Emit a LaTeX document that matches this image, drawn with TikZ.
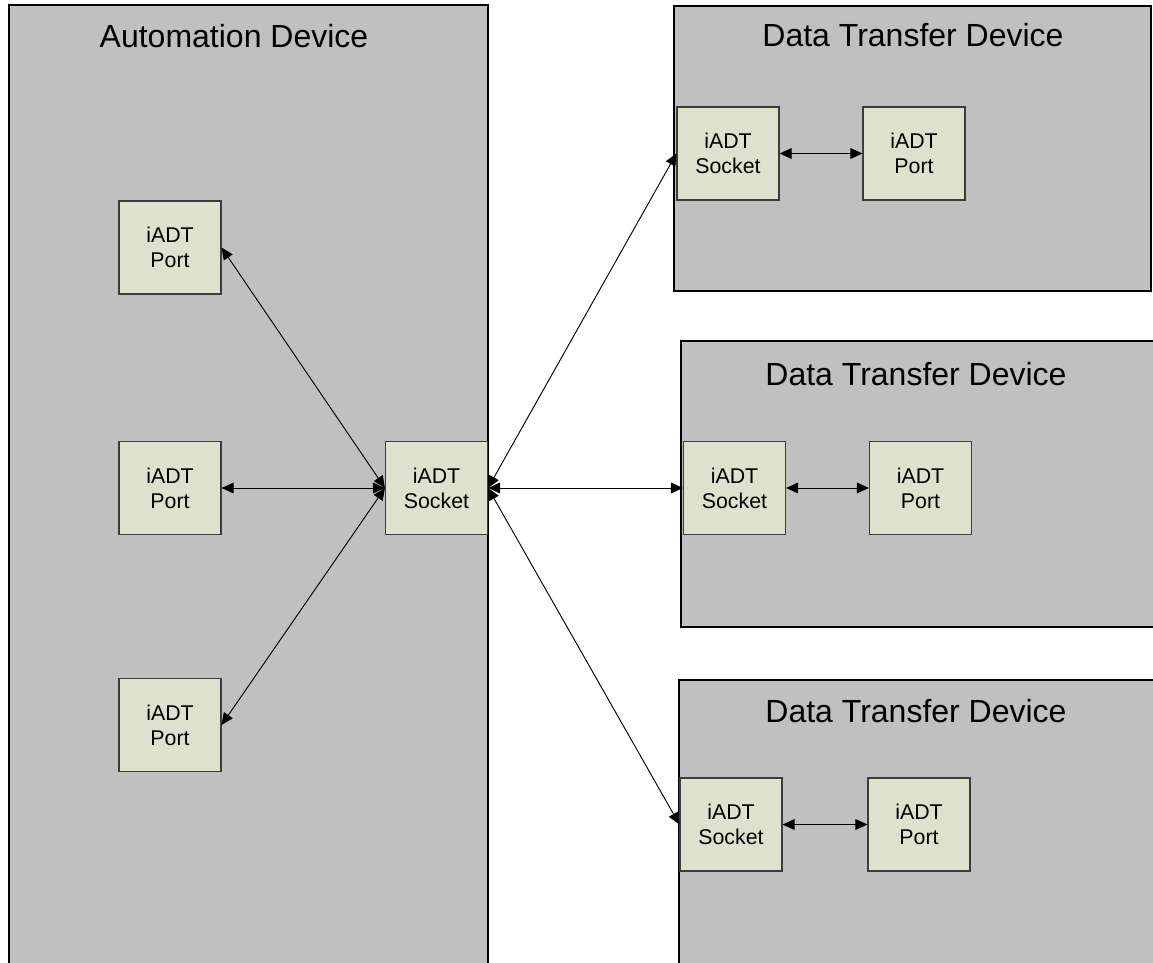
\documentclass[tikz,border=0pt]{standalone}
\usepackage{fontspec}
\setmainfont{Liberation Sans}
\usetikzlibrary{arrows.meta}
\definecolor{devgray}{RGB}{192,192,192}
\definecolor{iadtfill}{RGB}{221,225,206}
\definecolor{iadtline}{RGB}{60,60,60}

\begin{document}
\begin{tikzpicture}[x=0.75pt,y=-0.75pt,>={Triangle[length=9pt,width=8pt]},
  device/.style={draw=black,fill=devgray,line width=2.2pt},
  dev title/.style={anchor=base,font=\fontsize{24}{28}\selectfont},
  iadt node/.style={rectangle,draw=iadtline,fill=iadtfill,line width=0.8pt,minimum width=76.5pt,minimum height=69.75pt,inner sep=0pt,align=center,font=\fontsize{16}{18.75}\selectfont}]
  \useasboundingbox (0,0) rectangle (1153,963);
  \clip (0,0) rectangle (1153,963);

  \draw[device] (9,5) rectangle (488,990);
  \draw[device] (674,6) rectangle (1151,291);
  \draw[device] (681,341) rectangle (1170,627);
  \draw[device] (679,680) rectangle (1170,990);

  \node[dev title] (ad) at (234,48) {Automation Device};
  \node[dev title] (dt1) at (913,47) {Data Transfer Device};
  \node[dev title] (dt2) at (916,385) {Data Transfer Device};
  \node[dev title] (dt3) at (916,722) {Data Transfer Device};

  \node[iadt node] (p1) at (170,247.5) {iADT\\Port};
  \node[iadt node] (p2) at (170,488) {iADT\\Port};
  \node[iadt node] (p3) at (170,725) {iADT\\Port};
  \node[iadt node] (sock) at (436.5,488) {iADT\\Socket};

  \node[iadt node] (s1) at (728,153.5) {iADT\\Socket};
  \node[iadt node] (q1) at (914,153.5) {iADT\\Port};
  \node[iadt node] (s2) at (734.5,488) {iADT\\Socket};
  \node[iadt node] (q2) at (920.5,488) {iADT\\Port};
  \node[iadt node] (s3) at (731,824.5) {iADT\\Socket};
  \node[iadt node] (q3) at (919,824.5) {iADT\\Port};

\path[<->,line width=0.7pt]
  (sock.west) edge (p1.east)
  (sock.west) edge (p2.east)
  (sock.west) edge (p3.east)
  (sock.east) edge (s1.west)
  (sock.east) edge (s2.west)
  (sock.east) edge (s3.west)
  (s1.east) edge (q1.west)
  (s2.east) edge (q2.west)
  (s3.east) edge (q3.west)
;
\end{tikzpicture}
\end{document}
